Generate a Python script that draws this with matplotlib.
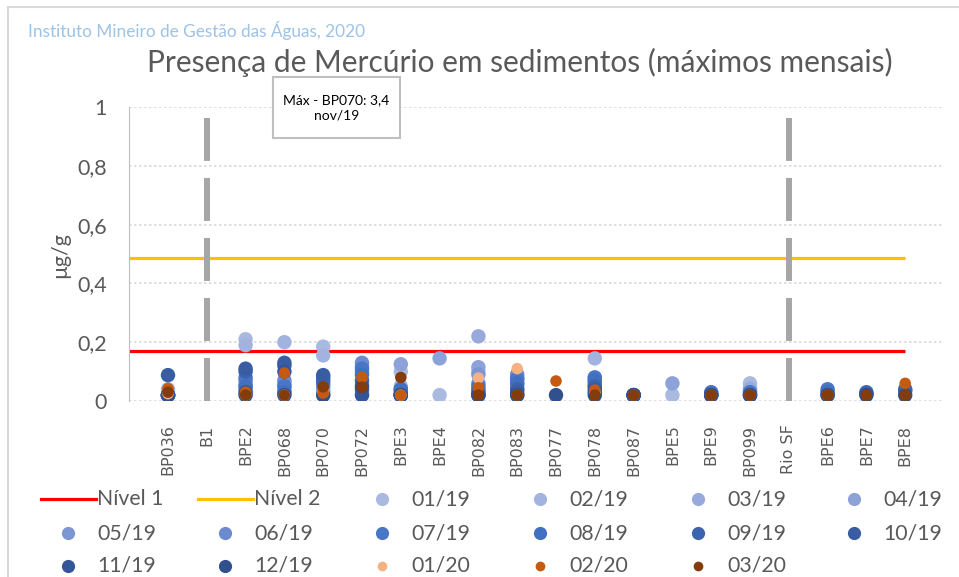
import numpy as np
import matplotlib.pyplot as plt
from matplotlib.patches import Rectangle
from matplotlib.lines import Line2D
from matplotlib.ticker import FuncFormatter

n = np.nan

stations = ['BP036', 'B1', 'BPE2', 'BP068', 'BP070', 'BP072', 'BPE3', 'BPE4', 'BP082', 'BP083',
            'BP077', 'BP078', 'BP087', 'BPE5', 'BPE9', 'BP099', 'Rio SF', 'BPE6', 'BPE7', 'BPE8']
separators = ['B1', 'Rio SF']

nivel1 = 0.17
nivel2 = 0.486

# máximos mensais por estação (µg/g)
m01_19 = [0.02, n, 0.21, 0.05, 0.185, 0.02, 0.10, 0.02, 0.10, 0.07, n, 0.06, n, 0.02, n, 0.06, n, n, n, n]
m02_19 = [0.04, n, 0.19, 0.20, 0.155, 0.03, 0.05, n, 0.03, 0.04, n, 0.145, n, n, n, 0.045, n, n, n, n]
m03_19 = [0.02, n, 0.05, 0.04, 0.04, 0.06, 0.03, n, 0.22, 0.06, n, 0.07, n, n, n, 0.04, n, n, n, n]
m04_19 = [n, n, 0.06, 0.03, 0.03, 0.10, 0.125, 0.145, 0.115, 0.05, n, 0.08, n, 0.06, n, n, n, n, n, n]
m05_19 = [0.02, n, 0.04, 0.06, 0.02, 0.12, 0.02, n, 0.09, 0.08, n, 0.06, n, n, n, 0.03, n, n, n, n]
m06_19 = [0.02, n, 0.07, 0.07, 0.05, 0.13, 0.04, n, 0.06, 0.09, n, 0.05, n, n, n, n, n, n, n, n]
m07_19 = [0.02, n, 0.08, 0.05, 0.06, 0.11, 0.03, n, 0.05, 0.075, n, 0.08, 0.02, n, 0.03, 0.03, n, 0.04, n, 0.04]
m08_19 = [0.02, n, 0.05, 0.03, 0.08, 0.09, 0.04, n, 0.04, 0.06, n, 0.07, 0.02, n, 0.025, n, n, 0.03, 0.03, n]
m09_19 = [0.02, n, 0.10, 0.12, 0.07, 0.07, 0.02, n, 0.03, 0.04, n, 0.05, 0.02, n, 0.02, 0.02, n, n, n, 0.035]
m10_19 = [0.088, n, 0.11, 0.13, 0.088, 0.04, 0.02, n, 0.02, 0.03, n, 0.04, 0.02, n, 0.02, n, n, 0.02, 0.025, n]
m11_19 = [0.02, n, 0.03, 0.10, 3.4, 0.02, 0.02, n, 0.02, 0.02, n, 0.03, 0.02, n, 0.02, 0.02, n, n, n, n]
m12_19 = [0.02, n, 0.02, 0.02, 0.02, 0.05, 0.02, n, 0.02, 0.02, 0.02, 0.02, 0.02, n, 0.02, 0.02, n, 0.02, 0.02, 0.02]
m01_20 = [0.025, n, 0.02, 0.02, 0.03, n, 0.02, n, 0.078, 0.11, n, 0.03, n, n, n, n, n, n, n, n]
m02_20 = [0.042, n, 0.03, 0.095, 0.027, 0.08, 0.02, n, 0.045, 0.02, 0.068, 0.037, 0.02, n, 0.02, 0.02, n, 0.02, n, 0.06]
m03_20 = [0.03, n, 0.02, 0.02, 0.048, 0.047, 0.08, n, 0.02, 0.02, n, 0.02, 0.02, n, 0.02, 0.02, n, 0.02, 0.02, 0.02]

months = ['01/19', '02/19', '03/19', '04/19', '05/19', '06/19', '07/19', '08/19', '09/19',
          '10/19', '11/19', '12/19', '01/20', '02/20', '03/20']
series = [m01_19, m02_19, m03_19, m04_19, m05_19, m06_19, m07_19, m08_19, m09_19,
          m10_19, m11_19, m12_19, m01_20, m02_20, m03_20]
colors = ['#AAB9E0', '#A2B3DF', '#97AADB', '#8CA2D8', '#7B96D3', '#6A8BCF', '#4A76C6', '#4270C0',
          '#3C64AE', '#385DA3', '#345699', '#30508E', '#F4B183', '#C55A11', '#843C0C']

W, H = 959, 577
fig = plt.figure(figsize=(W / 100, H / 100), dpi=100)


def fx(px):
    return px / W


def fy(py):
    return 1 - py / H


FONT = ['Lato', 'DejaVu Sans']
GRAY = '#595959'

ax = fig.add_axes([fx(129.2), fy(401), fx(944) - fx(129.2), fy(107) - fy(401)])
x = np.arange(1, len(stations) + 1)

ax.hlines(nivel1, 0, len(stations), color='#FF0000', lw=2.3, zorder=2)
ax.hlines(nivel2, 0, len(stations), color='#FFC000', lw=2.3, zorder=2)

sep_x = [x[stations.index(s)] for s in separators]
ax.vlines(sep_x, 0, 0.963, color='#A6A6A6', lw=4.3, linestyles=[(0, (7.2, 2.85))], zorder=2)

for i, (vals, c) in enumerate(zip(series, colors)):
    size = 69 if i >= 12 else 108
    ax.scatter(x, vals, s=size, color=c, edgecolors='none', zorder=3 + i, clip_on=True)

ax.set_xlim(0, len(stations) + 1)
ax.set_ylim(0, 1)
ax.set_yticks(np.arange(0, 1.01, 0.2))
ax.yaxis.set_major_formatter(FuncFormatter(lambda v, p: f'{v:g}'.replace('.', ',')))
ax.set_xticks(x, stations, rotation=90)
ax.grid(axis='y', color='#D9D9D9', ls=(0, (1.5, 1.5)), lw=1.2, zorder=0)
ax.set_axisbelow(True)
for s in ['top', 'right', 'bottom']:
    ax.spines[s].set_visible(False)
ax.spines['left'].set_color('#BFBFBF')
ax.tick_params(axis='both', length=0, colors=GRAY)
ax.tick_params(axis='y', pad=16, labelsize=15.5)
ax.tick_params(axis='x', pad=17, labelsize=11.5)
for t in ax.get_yticklabels():
    t.set_family(FONT)
for t in ax.get_xticklabels():
    t.set_family('DejaVu Sans')
    t.set_verticalalignment('top')

fig.text(fx(60), fy(255), 'µg/g', rotation=90, ha='center', va='center',
         fontsize=15.5, color=GRAY, family=FONT)
fig.text(fx(520), fy(62), 'Presença de Mercúrio em sedimentos (máximos mensais)',
         ha='center', va='center', fontsize=21.5, color=GRAY, family=FONT)
fig.text(fx(28), fy(30), 'Instituto Mineiro de Gestão das Águas, 2020',
         ha='left', va='center', fontsize=12.4, color='#9DC3E6', family=FONT)

# caixa de anotação
fig.add_artist(Rectangle((fx(273), fy(138)), fx(400) - fx(273), fy(77) - fy(138),
                         transform=fig.transFigure, facecolor='white', edgecolor='#BFBFBF', lw=1.5))
fig.text(fx(336.5), fy(108), 'Máx - BP070: 3,4\nnov/19', ha='center', va='center',
         fontsize=10, color='black', family=FONT, linespacing=1.35)

# moldura do gráfico
fig.add_artist(Rectangle((fx(8), fy(590)), fx(980) - fx(8), fy(7) - fy(590),
                         transform=fig.transFigure, facecolor='none', edgecolor='#D9D9D9', lw=1.5))

# legenda
leg_cols = [68, 225, 382, 540, 698, 854]
leg_rows = [499, 533, 566]
entries = [('Nível 1', 'line', '#FF0000'), ('Nível 2', 'line', '#FFC000')]
entries += [(m, 'dot', c) for m, c in zip(months, colors)]
for k, (label, kind, c) in enumerate(entries):
    cx = leg_cols[k % 6]
    cy = leg_rows[k // 6]
    if kind == 'line':
        fig.add_artist(Line2D([fx(cx - 27.5), fx(cx + 27.5)], [fy(cy), fy(cy)],
                              transform=fig.transFigure, color=c, lw=2.3))
    else:
        ms = 7 if k >= 14 else 9.5
        fig.add_artist(Line2D([fx(cx)], [fy(cy)], transform=fig.transFigure, marker='o',
                              ms=ms, color=c, mec='none', ls='none'))
    fig.text(fx(cx + 29), fy(cy), label, ha='left', va='center', fontsize=15.3,
             color=GRAY, family=FONT)

fig.savefig('out.png', dpi=100)
